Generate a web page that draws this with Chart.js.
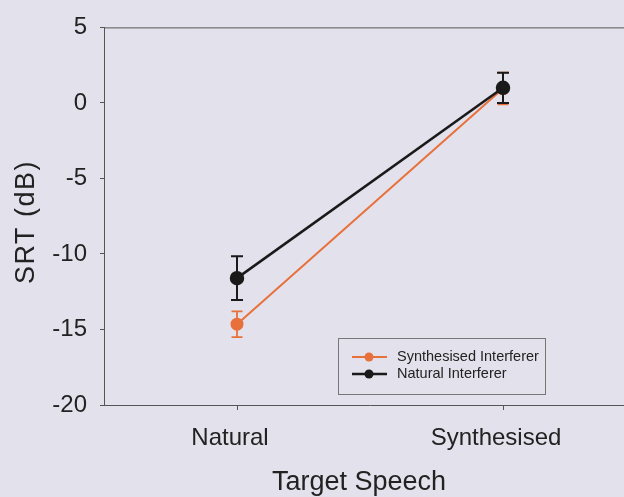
<!DOCTYPE html>
<html>
<head>
<meta charset="utf-8">
<script src="https://cdn.jsdelivr.net/npm/chart.js@4.4.0/dist/chart.umd.min.js"></script>
<style>
html, body { margin: 0; padding: 0; background: #e3e2ec; overflow: hidden; }
#wrap { width: 646px; height: 497px; }
</style>
</head>
<body>
<div id="wrap"><canvas id="srtChart" width="646" height="497"></canvas></div>
<script>
var categories = ["Natural", "Synthesised"];
var synthInterferer = [-14.65, 0.95];
var synthInterfererErr = [0.85, 1.05];
var naturalInterferer = [-11.6, 1.0];
var naturalInterfererErr = [1.45, 1.0];
var yTicks = [-20, -15, -10, -5, 0, 5];

var orange = "#e8703a";
var black = "#1a1a1a";
var fontFamily = "'Liberation Sans', Arial, sans-serif";

// error bars, drawn under each dataset's line and markers
var errorBars = {
    id: 'errorBars',
    beforeDatasetDraw: function (chart, args) {
        var ds = chart.data.datasets[args.index];
        if (!ds.errors) return;
        var ctx = chart.ctx;
        var y = chart.scales.y;
        ctx.save();
        ctx.strokeStyle = ds.borderColor;
        ctx.lineWidth = ds.errWidth;
        args.meta.data.forEach(function (pt, i) {
            var top = y.getPixelForValue(ds.data[i] + ds.errors[i]);
            var bot = y.getPixelForValue(ds.data[i] - ds.errors[i]);
            var w = ds.capWidth / 2;
            ctx.beginPath();
            ctx.moveTo(pt.x, top); ctx.lineTo(pt.x, bot);
            ctx.moveTo(pt.x - w, top); ctx.lineTo(pt.x + w, top);
            ctx.moveTo(pt.x - w, bot); ctx.lineTo(pt.x + w, bot);
            ctx.stroke();
        });
        ctx.restore();
    }
};

// frame, axis titles and boxed legend inside the plot
var frameAndLegend = {
    id: 'frameAndLegend',
    afterDraw: function (chart) {
        var ctx = chart.ctx;
        var a = chart.chartArea;
        ctx.save();
        ctx.strokeStyle = "#555";
        ctx.lineWidth = 1;
        ctx.beginPath();
        ctx.moveTo(a.left, a.top + 0.5); ctx.lineTo(a.right, a.top + 0.5);
        ctx.lineTo(a.right, a.bottom);
        ctx.stroke();

        ctx.fillStyle = "#222";
        ctx.textAlign = "center";

        // x title
        ctx.font = "27px " + fontFamily;
        ctx.textBaseline = "alphabetic";
        ctx.fillText("Target Speech", 359, 490);

        // y title
        ctx.save();
        ctx.translate(27, 222);
        ctx.rotate(-Math.PI / 2);
        ctx.letterSpacing = "1.5px";
        ctx.textBaseline = "middle";
        ctx.fillText("SRT (dB)", 0, 0);
        ctx.restore();

        var bx = 338, by = 338, bw = 207, bh = 56;
        ctx.strokeStyle = "#777";
        ctx.strokeRect(bx + 0.5, by + 0.5, bw, bh);

        var items = [chart.data.datasets[1], chart.data.datasets[0]];
        items.forEach(function (ds, i) {
            var cy = 357 + i * 17;
            ctx.strokeStyle = ds.borderColor;
            ctx.lineWidth = ds.borderWidth;
            ctx.beginPath();
            ctx.moveTo(352, cy); ctx.lineTo(387, cy);
            ctx.stroke();
            ctx.fillStyle = ds.borderColor;
            ctx.beginPath();
            ctx.arc(369, cy, 4.5, 0, Math.PI * 2);
            ctx.fill();
            ctx.fillStyle = "#222";
            ctx.font = "14.5px " + fontFamily;
            ctx.textBaseline = "middle";
            ctx.textAlign = "left";
            ctx.fillText(ds.label, 397, cy);
        });
        ctx.restore();
    }
};

var ctx = document.getElementById("srtChart").getContext("2d");
new Chart(ctx, {
    type: 'line',
    data: {
        labels: categories,
        datasets: [
            {
                label: "Natural Interferer",
                data: naturalInterferer,
                errors: naturalInterfererErr,
                borderColor: black,
                backgroundColor: black,
                pointBackgroundColor: black,
                pointBorderColor: black,
                borderWidth: 2.5,
                pointRadius: 6,
                errWidth: 2,
                capWidth: 12,
                tension: 0
            },
            {
                label: "Synthesised Interferer",
                data: synthInterferer,
                errors: synthInterfererErr,
                borderColor: orange,
                backgroundColor: orange,
                pointBackgroundColor: orange,
                pointBorderColor: orange,
                borderWidth: 2,
                pointRadius: 5.5,
                errWidth: 1.8,
                capWidth: 11,
                tension: 0
            }
        ]
    },
    options: {
        responsive: false,
        animation: false,
        devicePixelRatio: 1,
        layout: { padding: { top: 26, right: 10, left: 0, bottom: 0 } },
        plugins: {
            legend: { display: false },
            tooltip: { enabled: false }
        },
        scales: {
            x: {
                type: 'category',
                offset: true,
                afterFit: function (scale) { scale.height = 92; },
                grid: { drawOnChartArea: false, drawTicks: true, tickLength: 5, color: "#555", offset: false },
                border: { display: true, color: "#555", width: 1 },
                ticks: { color: "#222", padding: 14, labelOffset: -7, font: { family: fontFamily, size: 24 } },
                title: { display: false }
            },
            y: {
                min: -20,
                max: 5,
                afterBuildTicks: function (scale) {
                    scale.ticks = yTicks.map(function (v) { return { value: v }; });
                },
                afterFit: function (scale) { scale.width = 104; },
                grid: { drawOnChartArea: false, drawTicks: true, tickLength: 4, color: "#555" },
                border: { display: true, color: "#555", width: 1 },
                ticks: { color: "#222", padding: 13, font: { family: fontFamily, size: 24 } },
                title: { display: false }
            }
        }
    },
    plugins: [errorBars, frameAndLegend]
});
</script>
</body>
</html>
